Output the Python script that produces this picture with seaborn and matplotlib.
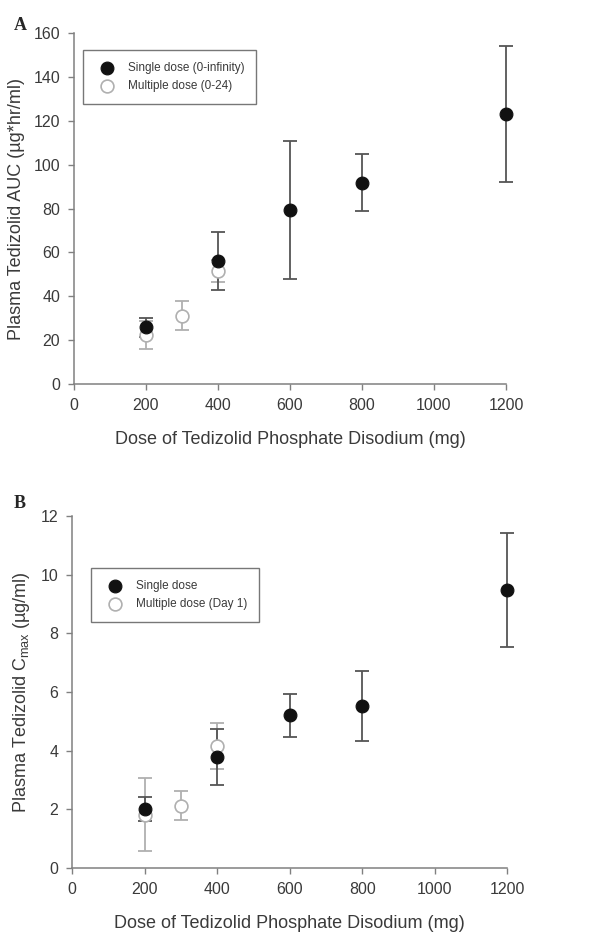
"""Tedizolid AUC and Cmax vs dose, two stacked panels."""

import matplotlib
matplotlib.use("Agg")
import matplotlib.pyplot as plt
import numpy as np
import pandas as pd
import seaborn as sns

# Panel A: AUC (ug*hr/ml)
auc_single_dose = [200, 400, 600, 800, 1200]
auc_single_mean = [25.9, 56.1, 79.4, 91.9, 123.2]
auc_single_err = [4.4, 13.3, 31.4, 12.9, 31.0]
auc_multi_dose = [200, 300, 400]
auc_multi_mean = [22.4, 31.2, 51.7]
auc_multi_err = [6.4, 6.5, 5.0]

# Panel B: Cmax (ug/ml)
cmax_single_dose = [200, 400, 600, 800, 1200]
cmax_single_mean = [2.01, 3.78, 5.21, 5.52, 9.49]
cmax_single_err = [0.42, 0.95, 0.73, 1.19, 1.95]
cmax_multi_dose = [200, 300, 400]
cmax_multi_mean = [1.82, 2.12, 4.17]
cmax_multi_err = [1.24, 0.50, 0.78]

x_ticks = [0, 200, 400, 600, 800, 1000, 1200]
auc_ticks = [0, 20, 40, 60, 80, 100, 120, 140, 160]
cmax_ticks = [0, 2, 4, 6, 8, 10, 12]

sns.set_theme(style="ticks")
plt.rcParams["font.family"] = ["Liberation Sans", "DejaVu Sans"]
plt.rcParams["mathtext.fontset"] = "custom"
plt.rcParams["mathtext.rm"] = "Liberation Sans"

TEXT = "#3a3a3a"
SPINE = "#808080"
DARK_ERR = "#555555"
LIGHT_ERR = "#b0b0b0"


def draw_panel(ax, single, multi, yticks, ylabel, labels, legend_anchor):
    s_df = pd.DataFrame({"dose": single[0], "value": single[1], "err": single[2]})
    m_df = pd.DataFrame({"dose": multi[0], "value": multi[1], "err": multi[2]})

    ax.errorbar(m_df["dose"], m_df["value"], yerr=m_df["err"], fmt="none",
                ecolor=LIGHT_ERR, elinewidth=1.3, capsize=5, capthick=1.3,
                clip_on=False, zorder=2)
    ax.errorbar(s_df["dose"], s_df["value"], yerr=s_df["err"], fmt="none",
                ecolor=DARK_ERR, elinewidth=1.3, capsize=5, capthick=1.3,
                clip_on=False, zorder=3)
    sns.scatterplot(data=m_df, x="dose", y="value", ax=ax, s=85,
                    color="white", edgecolor=LIGHT_ERR, linewidth=1.2,
                    label=labels[1], clip_on=False, zorder=4)
    sns.scatterplot(data=s_df, x="dose", y="value", ax=ax, s=85,
                    color="#111111", edgecolor="#111111", linewidth=0.8,
                    label=labels[0], clip_on=False, zorder=5)

    ax.set_xlim(0, 1200)
    ax.set_ylim(yticks[0], yticks[-1])
    ax.set_xticks(x_ticks)
    ax.set_yticks(yticks)
    ax.set_xlabel("Dose of Tedizolid Phosphate Disodium (mg)", fontsize=13,
                  color=TEXT, labelpad=13)
    ax.set_ylabel(ylabel, fontsize=13, color=TEXT, labelpad=6)
    ax.tick_params(axis="both", labelsize=11.5, colors=TEXT, length=4,
                   width=1, color=SPINE, pad=6)
    sns.despine(ax=ax)
    for side in ("left", "bottom"):
        ax.spines[side].set_color(SPINE)
        ax.spines[side].set_linewidth(1.1)

    handles, lbls = ax.get_legend_handles_labels()
    order = [lbls.index(labels[0]), lbls.index(labels[1])]
    leg = ax.legend([handles[i] for i in order], [lbls[i] for i in order],
                    loc="upper left", bbox_to_anchor=legend_anchor,
                    fontsize=8.5, frameon=True, fancybox=False,
                    borderpad=1.0, labelspacing=0.5, handletextpad=0.8,
                    borderaxespad=0)
    leg.get_frame().set_edgecolor("#555555")
    leg.get_frame().set_linewidth(1.0)
    for t in leg.get_texts():
        t.set_color(TEXT)


fig = plt.figure(figsize=(6.06, 9.33), dpi=100)
ax_a = fig.add_axes([0.122, 0.5884, 0.713, 0.376])
ax_b = fig.add_axes([0.119, 0.0697, 0.718, 0.377])

draw_panel(ax_a,
           (auc_single_dose, auc_single_mean, auc_single_err),
           (auc_multi_dose, auc_multi_mean, auc_multi_err),
           auc_ticks, "Plasma Tedizolid AUC (µg*hr/ml)",
           ["Single dose (0-infinity)", "Multiple dose (0-24)"],
           (0.021, 0.952))
draw_panel(ax_b,
           (cmax_single_dose, cmax_single_mean, cmax_single_err),
           (cmax_multi_dose, cmax_multi_mean, cmax_multi_err),
           cmax_ticks, r"Plasma Tedizolid C$_{\mathregular{max}}$ (µg/ml)",
           ["Single dose", "Multiple dose (Day 1)"],
           (0.044, 0.852))

fig.text(14 / 606, 1 - 25 / 933, "A", fontsize=13, fontweight="bold",
         family="Liberation Serif", va="center", ha="left")
fig.text(14 / 606, 1 - 503 / 933, "B", fontsize=13, fontweight="bold",
         family="Liberation Serif", va="center", ha="left")

fig.savefig("out.png", dpi=100)
